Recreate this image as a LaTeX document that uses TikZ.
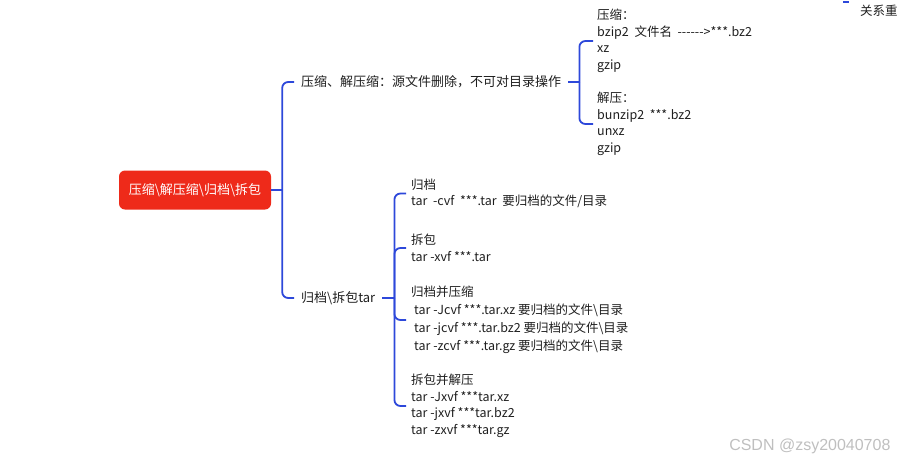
\documentclass[tikz,border=0pt]{standalone}
\usepackage{fontspec}
\newfontfamily\mmfont{Noto Sans CJK SC}
\newfontfamily\wmfont{Liberation Sans}
\usepackage{tikz}
\usetikzlibrary{positioning,calc}
\definecolor{mmblue}{RGB}{45,72,218}
\definecolor{mmred}{RGB}{238,42,26}
\definecolor{mmtext}{RGB}{30,30,30}
\tikzset{
  mmlink/.style={mmblue,line width=1.8pt,rounded corners=6pt},
  mmroot/.style={fill=mmred,text=white,rounded corners=6pt,minimum width=152pt,
    minimum height=39pt,inner sep=0pt,font=\mmfont\fontsize{13}{16}\selectfont},
  mmtopic/.style={anchor=west,text=mmtext,inner xsep=7pt,font=\mmfont\fontsize{13}{16.5}\selectfont},
  mmleaf/.style={anchor=west,align=left,text=mmtext,inner xsep=5pt,inner ysep=0pt,
    font=\mmfont\fontsize{12.5}{16.5}\selectfont},
  wmark/.style={anchor=east,text=black!25,font=\wmfont\fontsize{16}{18}\selectfont},
}

\begin{document}
\begin{tikzpicture}[x=1pt,y=-1pt]
  \useasboundingbox (0,0) rectangle (897,461);
  % mind map: root, two topics, leaves
  \node[mmroot] (root) at (195,190) {压缩\textbackslash 解压缩\textbackslash 归档\textbackslash 拆包};
  \node[mmtopic] (zip) at (294,82) {压缩、解压缩：源文件删除，不可对目录操作};
  \node[mmtopic] (tar) at (294,298) {归档\textbackslash 拆包tar};
  \coordinate (f0) at ($(root.east)+(11,0)$);
  \coordinate (f1) at ($(zip.east)+(11,0)$);
  \coordinate (f2) at ($(tar.east)+(12,0)$);

  \node[mmleaf,inner xsep=4pt] (zipa) at (593,41)
    {压缩：\\bzip2~~文件名~~------>***.bz2\\xz\\gzip};
  \node[mmleaf,inner xsep=4pt] (zipb) at (593,124)
    {解压：\\bunzip2~~***.bz2\\unxz\\gzip};

  \node[mmleaf] (tara) at (406,193.5) {归档\\tar~~-cvf~~***.tar~~要归档的文件/目录};
  \node[mmleaf] (tarb) at (406,248) {拆包\\tar -xvf ***.tar};
  \node[mmleaf,font=\mmfont\fontsize{12.5}{18}\selectfont] (tarc) at (406,320)
    {归档并压缩\\\hspace*{3pt}tar -Jcvf ***.tar.xz 要归档的文件\textbackslash 目录\\
     \hspace*{3pt}tar -jcvf ***.tar.bz2 要归档的文件\textbackslash 目录\\
     \hspace*{3pt}tar -zcvf ***.tar.gz 要归档的文件\textbackslash 目录};
  \node[mmleaf] (tard) at (406,406)
    {拆包并解压\\tar -Jxvf ***tar.xz\\tar -jxvf ***tar.bz2\\tar -zxvf ***tar.gz};

  \draw[mmlink] (root.east) -- (f0);
  \foreach \c in {zip,tar} \draw[mmlink] (f0) |- (\c.west);
  \draw[mmlink] (zip.east) -- (f1);
  \foreach \c in {zipa,zipb} \draw[mmlink] (f1) |- (\c.west);
  \draw[mmlink] (tar.east) -- (f2);
  \foreach \c in {tara,tarb,tarc,tard} \draw[mmlink] (f2) |- (\c.west);

  % cut-off bits at the top right, and the watermark
  \coordinate (cutl) at (843,2);
  \coordinate (cutr) at (849,2);
  \draw[mmblue,line width=1.5pt] (cutl) -- (cutr);
  \node[mmleaf,inner xsep=0pt] (rel) at (860,11) {关系重};
  \node[wmark] (wm) at (894,446) {CSDN @zsy20040708};
\end{tikzpicture}
\end{document}
